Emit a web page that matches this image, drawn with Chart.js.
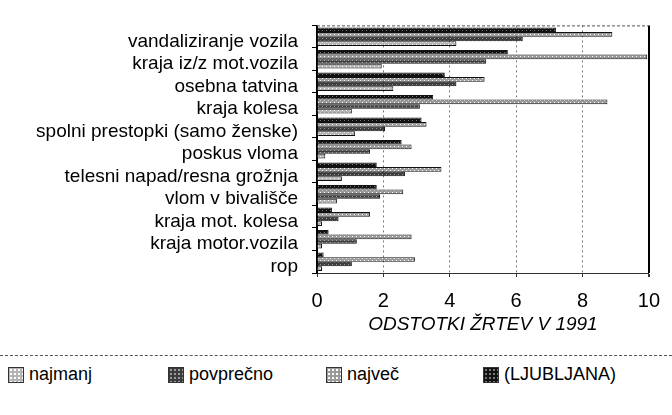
<!DOCTYPE html>
<html>
<head>
<meta charset="utf-8">
<script src="https://cdn.jsdelivr.net/npm/chart.js@4.4.0/dist/chart.umd.min.js"></script>
<style>
	body { margin: 0; background: #fff; font-family: 'Liberation Sans', Arial, sans-serif; }
	#wrap { position: relative; width: 672px; height: 345px; }
	#legend { position: relative; width: 672px; height: 60px; margin-top: 10px; border-top: 1px dashed #555; }
	.item { position: absolute; top: 8px; display: flex; align-items: center; font-size: 18px; color: #000; }
	.box { width: 16px; height: 16px; margin-right: 5px; border: 1px solid #333; box-sizing: border-box; }
</style>
</head>
<body>
<div id="wrap"><canvas id="chart"></canvas></div>
<div id="legend"></div>
<script>
const categories = [
	'vandaliziranje vozila',
	'kraja iz/z mot.vozila',
	'osebna tatvina',
	'kraja kolesa',
	'spolni prestopki (samo ženske)',
	'poskus vloma',
	'telesni napad/resna grožnja',
	'vlom v bivališče',
	'kraja mot. kolesa',
	'kraja motor.vozila',
	'rop',
];
const najmanj = [4.2, 1.95, 2.3, 1.05, 1.15, 0.25, 0.75, 0.6, 0.15, 0.15, 0.15];
const povprecno = [6.2, 5.1, 4.2, 3.1, 2.05, 1.6, 2.65, 1.9, 0.65, 1.2, 1.05];
const najvec = [8.9, 9.95, 5.05, 8.75, 3.3, 2.85, 3.75, 2.6, 1.6, 2.85, 2.95];
const ljubljana = [7.2, 5.75, 3.85, 3.5, 3.15, 2.55, 1.8, 1.8, 0.45, 0.35, 0.2];
const xTicks = [0, 2, 4, 6, 8, 10];

// speckled fills, a bit like the scanned original
function speckle(base, dot) {
	const c = document.createElement('canvas');
	c.width = 4;
	c.height = 4;
	const g = c.getContext('2d');
	g.fillStyle = base;
	g.fillRect(0, 0, 4, 4);
	g.fillStyle = dot;
	g.fillRect(0, 0, 1, 1);
	g.fillRect(2, 2, 1, 1);
	return g.createPattern(c, 'repeat');
}
const fills = {
	najmanj: speckle('#b4b4b4', '#ffffff'),
	povprecno: speckle('#3c3c3c', '#9a9a9a'),
	najvec: speckle('#9a9a9a', '#ffffff'),
	ljubljana: speckle('#111111', '#777777'),
};

const series = [
	{ label: '(LJUBLJANA)', data: ljubljana, fill: fills.ljubljana, css: 'radial-gradient(#777 25%, #111 26%) 0 0/4px 4px' },
	{ label: 'največ', data: najvec, fill: fills.najvec, css: 'radial-gradient(#fff 25%, #9a9a9a 26%) 0 0/4px 4px' },
	{ label: 'povprečno', data: povprecno, fill: fills.povprecno, css: 'radial-gradient(#9a9a9a 25%, #3c3c3c 26%) 0 0/4px 4px' },
	{ label: 'najmanj', data: najmanj, fill: fills.najmanj, css: 'radial-gradient(#fff 25%, #b4b4b4 26%) 0 0/4px 4px' },
];

const frame = {
	id: 'frame',
	afterDraw(chart) {
		const { ctx, chartArea } = chart;
		ctx.save();
		ctx.strokeStyle = '#555';
		ctx.lineWidth = 1;
		ctx.setLineDash([3, 2]);
		ctx.beginPath();
		ctx.moveTo(chartArea.left, chartArea.top + 0.5);
		ctx.lineTo(chartArea.right, chartArea.top + 0.5);
		ctx.stroke();
		ctx.restore();
	},
};

new Chart(document.getElementById('chart'), {
	type: 'bar',
	data: {
		labels: categories,
		datasets: series.map((s) => ({
			label: s.label,
			data: s.data,
			backgroundColor: s.fill,
			borderColor: '#111',
			borderWidth: 1,
			categoryPercentage: 0.82,
			barPercentage: 1,
		})),
	},
	options: {
		indexAxis: 'y',
		responsive: true,
		maintainAspectRatio: false,
		animation: false,
		layout: { padding: { left: 0, right: 22, top: 16, bottom: 9 } },
		plugins: {
			legend: { display: false },
			tooltip: { enabled: false },
		},
		scales: {
			x: {
				min: 0,
				max: 10,
				afterBuildTicks: (scale) => {
					scale.ticks = xTicks.map((v) => ({ value: v }));
				},
				afterFit: (scale) => {
					scale.height = 63;
				},
				ticks: {
					color: '#000',
					padding: 12,
					font: { family: "'Liberation Sans', Arial, sans-serif", size: 20 },
				},
				grid: {
					color: (ctx) => (ctx.tick && (ctx.tick.value === 10 || ctx.tick.value === 0) ? '#000' : '#777'),
					lineWidth: (ctx) => (ctx.tick && ctx.tick.value === 10 ? 2 : 1),
					tickLength: 4,
					tickColor: '#333',
				},
				border: {
					color: '#333',
					width: 1,
					dash: (ctx) => (ctx.tick && ctx.tick.value !== 10 && ctx.tick.value !== 0 ? [2, 3] : []),
				},
				title: {
					display: true,
					text: 'ODSTOTKI ŽRTEV V 1991',
					color: '#000',
					padding: { top: 2, bottom: 0 },
					font: { family: "'Liberation Sans', Arial, sans-serif", size: 19, style: 'italic' },
				},
			},
			y: {
				afterFit: (scale) => {
					scale.width = 317;
				},
				ticks: {
					color: '#000',
					padding: 14,
					labelOffset: 5,
					autoSkip: false,
					font: { family: "'Liberation Sans', Arial, sans-serif", size: 19 },
				},
				grid: {
					drawOnChartArea: false,
					tickLength: 5,
					tickColor: '#000',
				},
				border: { color: '#000', width: 1.5 },
			},
		},
	},
	plugins: [frame],
});

// legend in the original order, spread across the bottom
const legend = document.getElementById('legend');
const lefts = [8, 168, 326, 483];
series.slice().reverse().forEach((s, i) => {
	const item = document.createElement('div');
	item.className = 'item';
	item.style.left = lefts[i] + 'px';
	item.innerHTML = '<span class="box" style="background:' + s.css + '"></span><span>' + s.label + '</span>';
	legend.appendChild(item);
});
</script>
</body>
</html>
